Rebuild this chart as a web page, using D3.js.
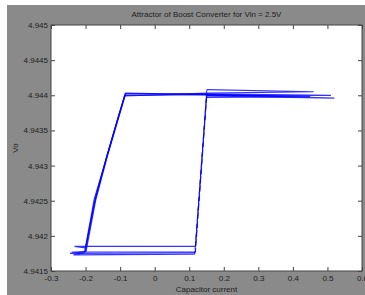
<!DOCTYPE html>
<html>
<head>
<meta charset="utf-8">
<script src="https://cdn.jsdelivr.net/npm/d3@7"></script>
<style>
  html, body { margin: 0; padding: 0; background: #ffffff; }
  svg { display: block; }
</style>
</head>
<body>
<svg id="chart" width="365" height="295"></svg>
<script>
// ---- data ----
const chartTitle = "Attractor of Boost Converter for Vin = 2.5V";
const xLabel = "Capacitor current";
const yLabel = "Vo";
const xTicks = [-0.3, -0.2, -0.1, 0, 0.1, 0.2, 0.3, 0.4, 0.5, 0.6];
const yTicks = [4.9415, 4.942, 4.9425, 4.943, 4.9435, 4.944, 4.9445, 4.945];
const xDomain = [-0.3, 0.6];
const yDomain = [4.9415, 4.945];

// trajectory cycles: [capacitor current, Vo]
// order: left rising branch -> top run -> return -> right falling branch -> bottom run -> back
const cycle1 = [[-0.201,4.94178],[-0.173,4.94251],[-0.139,4.94312],[-0.110,4.94361],[-0.086,4.94400],
                [0.150,4.94401],[0.520,4.94396],[0.150,4.94399],
                [0.117,4.94176],[-0.245,4.94175],[-0.201,4.94178]];
const cycle2 = [[-0.199,4.94177],[-0.171,4.94250],[-0.137,4.94313],[-0.108,4.94362],[-0.084,4.94402],
                [0.148,4.94402],[0.510,4.94400],[0.151,4.94400],
                [0.118,4.94177],[-0.240,4.94177],[-0.199,4.94177]];
const cycle3 = [[-0.203,4.94176],[-0.175,4.94252],[-0.140,4.94310],[-0.111,4.94359],[-0.087,4.94399],
                [0.152,4.94403],[0.460,4.94405],[0.151,4.94408],
                [0.116,4.94174],[-0.235,4.94173],[-0.203,4.94176]];
const cycle4 = [[-0.200,4.94183],[-0.172,4.94252],[-0.138,4.94314],[-0.109,4.94363],[-0.085,4.94403],
                [0.150,4.94401],[0.450,4.94398],[0.150,4.94397],
                [0.118,4.94185],[-0.232,4.94185],[-0.200,4.94183]];
const cycles = [cycle1, cycle2, cycle3, cycle4];

// ---- layout ----
const svg = d3.select("#chart");
const W = 365, H = 295;
const plot = { left: 51, right: 362, top: 25, bottom: 271 };

svg.append("rect").attr("x", 7).attr("y", 5).attr("width", W - 7).attr("height", H - 5)
   .attr("fill", "#8a8a8a");

const x = d3.scaleLinear().domain(xDomain).range([plot.left, plot.right]);
const y = d3.scaleLinear().domain(yDomain).range([plot.bottom, plot.top]);

svg.append("rect").attr("x", plot.left).attr("y", plot.top)
   .attr("width", plot.right - plot.left).attr("height", plot.bottom - plot.top)
   .attr("fill", "#ffffff");

const font = "'Liberation Sans', Arial, sans-serif";
const fmtY = d => String(+d.toFixed(4));
const fmtX = d => String(+d.toFixed(1));

function styleAxis(g) {
  g.select(".domain").remove();
  g.selectAll(".tick line").attr("stroke", "#444");
  g.selectAll(".tick text").attr("fill", "#1e1e1e").style("font-family", font).style("font-size", "8px");
}

svg.append("g").attr("transform", `translate(0,${plot.bottom})`)
   .call(d3.axisBottom(x).tickValues(xTicks).tickFormat(fmtX).tickSize(-4).tickPadding(4))
   .call(styleAxis);
svg.append("g").attr("transform", `translate(${plot.left},0)`)
   .call(d3.axisLeft(y).tickValues(yTicks).tickFormat(fmtY).tickSize(-4).tickPadding(3))
   .call(styleAxis);
svg.append("g").attr("transform", `translate(0,${plot.top})`)
   .call(d3.axisTop(x).tickValues(xTicks).tickFormat("").tickSize(-4))
   .call(styleAxis);
svg.append("g").attr("transform", `translate(${plot.right},0)`)
   .call(d3.axisRight(y).tickValues(yTicks).tickFormat("").tickSize(-4))
   .call(styleAxis);

// clip for data
svg.append("clipPath").attr("id", "clip").append("rect")
   .attr("x", plot.left).attr("y", plot.top)
   .attr("width", plot.right - plot.left).attr("height", plot.bottom - plot.top);

const line = d3.line().x(d => x(d[0])).y(d => y(d[1]));
const dataG = svg.append("g").attr("clip-path", "url(#clip)");
cycles.forEach((c, i) => {
  const solidA = c.slice(0, 8);
  const fast = c.slice(7, 9);
  const solidB = c.slice(8);
  dataG.append("path").attr("d", line(solidA)).attr("fill", "none")
       .attr("stroke", "#0000ff").attr("stroke-width", 1.2).attr("stroke-opacity", 0.8);
  dataG.append("path").attr("d", line(fast)).attr("fill", "none")
       .attr("stroke", "#0000ff").attr("stroke-width", 1).attr("stroke-opacity", 0.8)
       .attr("stroke-dasharray", "7,2");
  dataG.append("path").attr("d", line(solidB)).attr("fill", "none")
       .attr("stroke", "#0000ff").attr("stroke-width", 1.2).attr("stroke-opacity", 0.8);
});

// frame
svg.append("rect").attr("x", plot.left).attr("y", plot.top)
   .attr("width", plot.right - plot.left).attr("height", plot.bottom - plot.top)
   .attr("fill", "none").attr("stroke", "#444").attr("stroke-width", 1);

// texts
svg.append("text").attr("x", (plot.left + plot.right) / 2).attr("y", 17)
   .attr("text-anchor", "middle").attr("fill", "#1e1e1e")
   .style("font-family", font).style("font-size", "8px").text(chartTitle);
svg.append("text").attr("x", (plot.left + plot.right) / 2).attr("y", 292)
   .attr("text-anchor", "middle").attr("fill", "#1e1e1e")
   .style("font-family", font).style("font-size", "8px").text(xLabel);
svg.append("text").attr("transform", `translate(18,${(plot.top + plot.bottom) / 2}) rotate(-90)`)
   .attr("text-anchor", "middle").attr("fill", "#1e1e1e")
   .style("font-family", font).style("font-size", "8px").text(yLabel);
</script>
</body>
</html>
